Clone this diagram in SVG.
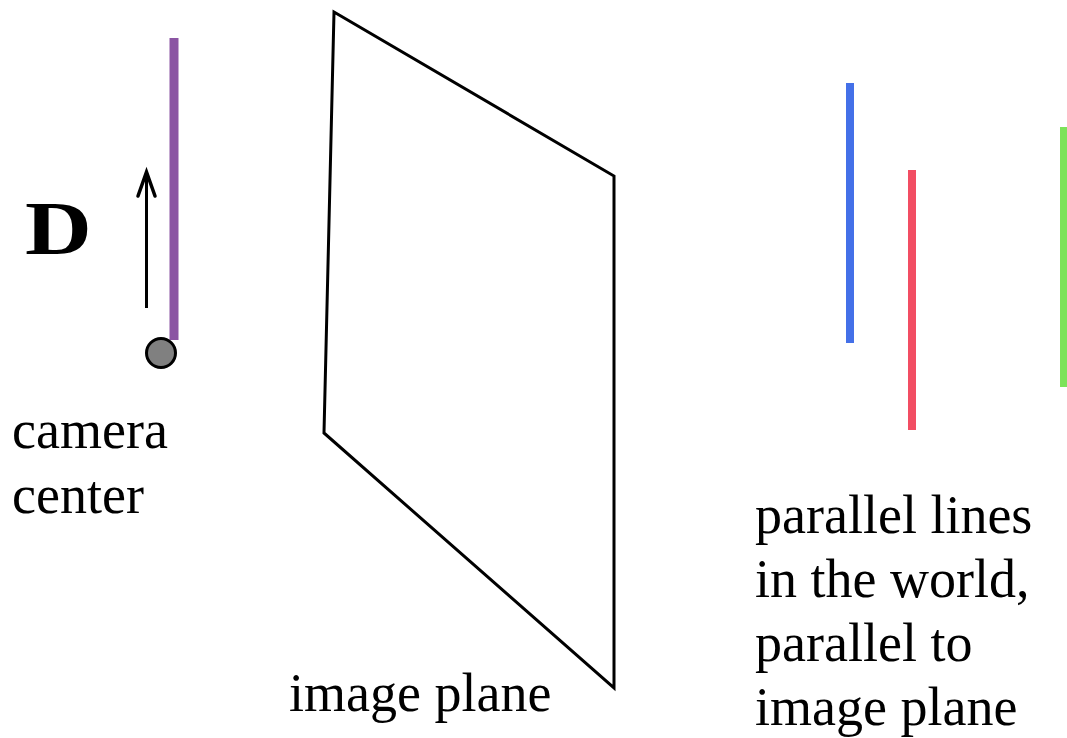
<svg xmlns="http://www.w3.org/2000/svg" width="1067" height="738" viewBox="0 0 1067 738">
<style>
.t{font-family:"Liberation Serif","Times New Roman",serif;font-size:54px;fill:#000}
.seg{stroke-width:8;stroke-linecap:butt;fill:none}
</style>
<rect width="1067" height="738" fill="#fff"/>
<g id="image-plane">
<polygon points="334,12 614,176 614,688 324,433" fill="none" stroke="#000" stroke-width="3" stroke-linejoin="miter"/>
<text class="t" x="289" y="711">image plane</text>
</g>
<g id="camera">
<line x1="174" y1="38" x2="174" y2="340" stroke="#8B55A3" stroke-width="9"/>
<circle cx="161" cy="353" r="14.5" fill="#808080" stroke="#000" stroke-width="3"/>
<text class="t" x="12" y="448">camera</text>
<text class="t" x="12" y="513">center</text>
</g>
<g id="direction">
<text transform="translate(25,254) scale(1.2,1)" x="0" y="0" style="font-family:'Liberation Serif','Times New Roman',serif;font-size:77px;font-weight:bold">D</text>
</g>
<g id="world-lines">
<line class="seg" x1="850" y1="83" x2="850" y2="343" stroke="#4470E8"/>
<line class="seg" x1="912" y1="170" x2="912" y2="430" stroke="#F24D63"/>
<line class="seg" x1="1064" y1="127" x2="1064" y2="387" stroke="#7DE35A"/>
<text class="t" x="755" y="533">parallel lines</text>
<text class="t" x="755" y="597">in the world,</text>
<text class="t" x="755" y="661">parallel to</text>
<text class="t" x="755" y="725">image plane</text>
</g>
<g id="connectors">
<line x1="146.5" y1="308" x2="146.5" y2="173" stroke="#000" stroke-width="3"/>
<polyline points="138,196 146.5,172 155,196" fill="none" stroke="#000" stroke-width="3.5" stroke-linejoin="miter" stroke-linecap="round"/>
</g>
</svg>
